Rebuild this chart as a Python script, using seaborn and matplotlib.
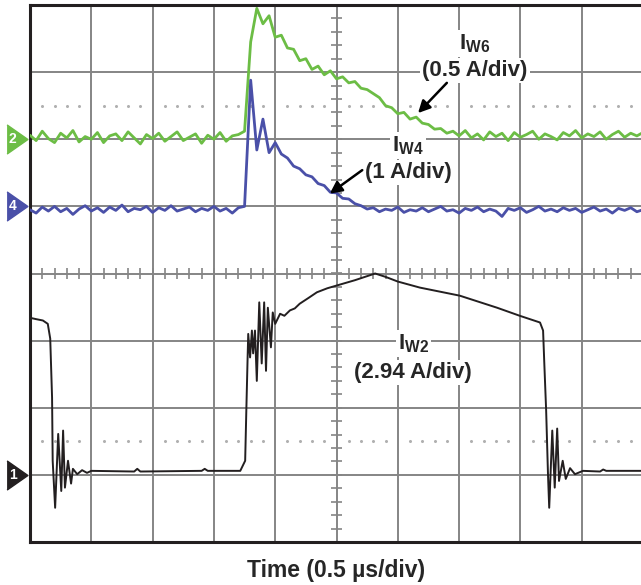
import numpy as np
import pandas as pd
import matplotlib
matplotlib.use("Agg")
import matplotlib.pyplot as plt
import seaborn as sns

# ==============================
# Data (scope divisions)
# ==============================

# channel reference levels (div)
ch_labels = ["2", "4", "1"]
ch_levels = [2.0, 1.0, -3.0]
ch_colors = ["#6cbd45", "#4a50a8", "#231f20"]

# IW6 (green), sampled every 0.1 div
iw6_vals = [2.06, 1.98, 2.12, 2.01, 1.95, 2.09, 2.02, 2.13, 1.96, 2.04,
            2.00, 2.10, 1.95, 2.05, 2.08, 1.98, 2.11, 2.02, 1.93, 2.07,
            2.01, 2.09, 1.97, 2.04, 2.11, 1.98, 2.03, 2.08, 1.94, 2.06,
            2.00, 2.10, 1.97, 2.05, 2.07,
            2.12, 3.45, 3.95, 3.72, 3.84, 3.52, 3.55, 3.36, 3.34, 3.17,
            3.20, 3.04, 3.09, 2.96, 3.02, 2.90, 2.93, 2.84, 2.86, 2.76,
            2.74, 2.68, 2.62, 2.50, 2.47, 2.38, 2.40, 2.30, 2.33, 2.24,
            2.22, 2.15, 2.16, 2.09, 2.12,
            2.05, 2.13, 2.02, 2.08, 1.99, 2.11, 2.04, 2.09, 1.98, 2.10,
            2.03, 2.07, 2.12, 2.00, 2.08, 2.04, 1.99, 2.10, 2.05, 2.13,
            2.02, 2.08, 2.04, 2.11, 2.00, 2.07, 2.12, 2.03, 2.09, 2.05, 2.10]

# IW4 (blue), sampled every 0.1 div
iw4_vals = [0.95, 0.90, 0.99, 0.93, 1.00, 0.92, 0.97, 0.88, 0.96, 1.01,
            0.93, 0.98, 0.91, 0.99, 0.94, 1.02, 0.92, 0.97, 0.95, 1.00,
            0.91, 0.98, 0.94, 1.01, 0.93, 0.96, 0.99, 0.92, 0.97, 0.94,
            1.00, 0.93, 0.97, 0.90, 0.98,
            1.00, 2.88, 1.84, 2.30, 1.80, 1.95, 1.78, 1.72, 1.60, 1.56,
            1.47, 1.44, 1.34, 1.31, 1.21, 1.20, 1.12, 1.11, 1.04, 1.01, 0.96,
            0.98, 0.92, 0.96, 0.94,
            0.99, 0.91, 0.95, 0.93, 0.98, 0.92, 0.96, 1.00, 0.93, 0.95,
            0.90, 0.97, 0.94, 0.99, 0.92, 0.96, 0.93, 0.85, 0.97, 0.94,
            0.98, 0.91, 0.95, 1.00, 0.93, 0.96, 0.92, 0.98, 0.94, 0.97,
            0.91, 0.95, 0.99, 0.93, 0.96, 0.90, 0.97, 0.94, 0.98, 0.92, 0.95]

sample_time = np.linspace(0, 10, 101)

# IW2 (black), irregular samples
iw2_time = [0.00, 0.10, 0.21, 0.29, 0.33, 0.36, 0.37, 0.41, 0.46, 0.51,
            0.54, 0.57, 0.62, 0.67, 0.70, 0.77, 0.85, 0.93, 1.00, 1.70,
            1.75, 1.80, 2.80, 2.85, 2.90, 3.43, 3.51, 3.53, 3.55, 3.56,
            3.59, 3.62, 3.64, 3.67, 3.70, 3.74, 3.78, 3.82, 3.85, 3.88,
            3.93, 3.96, 4.00, 4.08, 4.15, 4.24, 4.32, 4.40, 4.55, 4.68,
            4.85, 5.00, 5.30, 5.63, 5.80, 6.00, 6.36, 7.01, 7.62, 7.99,
            8.32, 8.37, 8.39, 8.42, 8.45, 8.47, 8.52, 8.56, 8.60, 8.63,
            8.69, 8.74, 8.81, 8.89, 9.02, 9.30, 9.35, 9.40, 10.00]
iw2_vals = [-0.66, -0.68, -0.70, -0.75, -0.97, -1.85, -2.79, -3.49, -2.39, -3.24,
            -2.34, -3.19, -2.79, -3.13, -2.91, -2.99, -2.93, -2.97, -2.94, -2.95,
            -2.91, -2.95, -2.94, -2.91, -2.94, -2.94, -2.79, -2.00, -1.25, -0.90,
            -1.25, -0.85, -1.19, -0.85, -1.60, -0.43, -1.34, -0.43, -1.45, -0.51,
            -1.10, -0.58, -0.75, -0.60, -0.63, -0.55, -0.52, -0.45, -0.36, -0.28,
            -0.22, -0.18, -0.10, 0.00, -0.05, -0.12, -0.21, -0.33, -0.51, -0.63,
            -0.73, -0.85, -1.34, -2.04, -2.99, -3.49, -2.34, -3.19, -2.31, -3.09,
            -2.79, -3.06, -2.90, -2.99, -2.94, -2.95, -2.92, -2.94, -2.94]

df_fast = pd.DataFrame({"t": sample_time, "IW6": iw6_vals, "IW4": iw4_vals})
df_iw2 = pd.DataFrame({"t": iw2_time, "IW2": iw2_vals})

# ==============================
# Style
# ==============================

sns.set_style("white")
plt.rcParams['font.family'] = ['Liberation Sans', 'DejaVu Sans']
plt.rcParams['mathtext.fontset'] = 'custom'
plt.rcParams['mathtext.bf'] = 'Liberation Sans:bold'
plt.rcParams['mathtext.rm'] = 'Liberation Sans'

grid_col = "#858585"

fig = plt.figure(figsize=(6.41, 5.85), dpi=100)
ax = fig.add_axes([30 / 641, 43 / 585, 613 / 641, 537 / 585])
ax.set_xlim(0, 10)
ax.set_ylim(-4, 4)

# graticule
ax.set_xticks(range(0, 11))
ax.set_yticks(range(-4, 5))
ax.grid(True, color=grid_col, lw=1.4, zorder=0)
ax.tick_params(length=0, labelbottom=False, labelleft=False)
ax.set_axisbelow(True)

minor_x = np.arange(0, 10.01, 0.2)
minor_y = np.arange(-4, 4.01, 0.2)
ax.vlines(minor_x, -0.075, 0.075, color=grid_col, lw=1.2, zorder=1)
ax.hlines(minor_y, 5 - 0.09, 5 + 0.09, color=grid_col, lw=1.2, zorder=1)
dot_x = [x for x in minor_x if abs(x - round(x)) > 1e-6]
for yy in (2.5, -2.5):
    ax.plot(dot_x, [yy] * len(dot_x), ls='none', marker='o', ms=1.2,
            color="#b0b0b0", zorder=1)

for side in ['left', 'top', 'bottom']:
    ax.spines[side].set_linewidth(2.2)
    ax.spines[side].set_color("#231f20")
ax.spines['right'].set_visible(False)

# ==============================
# Traces
# ==============================

sns.lineplot(data=df_fast, x="t", y="IW6", color=ch_colors[0], lw=2.0,
             estimator=None, sort=False, ax=ax, zorder=3)
sns.lineplot(data=df_fast, x="t", y="IW4", color=ch_colors[1], lw=2.0,
             estimator=None, sort=False, ax=ax, zorder=3)
sns.lineplot(data=df_iw2, x="t", y="IW2", color=ch_colors[2], lw=1.4,
             estimator=None, sort=False, ax=ax, zorder=3)
ax.set_xlabel("")
ax.set_ylabel("")

# channel markers
tri = [(-1, -1.4), (1, 0), (-1, 1.4)]
for lab, lev, col in zip(ch_labels, ch_levels, ch_colors):
    ax.plot([-0.21], [lev], marker=tri, ms=21, color=col, clip_on=False,
            ls='none', zorder=6)
    ax.text(-0.285, lev, lab, color='white', fontsize=10, fontweight='bold',
            ha='center', va='center', zorder=7, clip_on=False)

# ==============================
# Labels
# ==============================

box = dict(facecolor='white', edgecolor='none', pad=1.5)
fs = 16

ax.text(7.26, 3.43, r'$\mathbf{I_{W6}}$', fontsize=fs, ha='center', va='center',
        bbox=box, zorder=5)
ax.text(7.26, 3.03, '(0.5 A/div)', fontsize=fs, fontweight='bold', ha='center',
        va='center', bbox=box, zorder=5)
ax.annotate('', xy=(6.33, 2.39), xytext=(6.80, 2.84),
            arrowprops=dict(arrowstyle='-|>', lw=1.8, color='black',
                            mutation_scale=18, shrinkA=0, shrinkB=0), zorder=5)

ax.text(6.17, 1.91, r'$\mathbf{I_{W4}}$', fontsize=fs, ha='center', va='center',
        bbox=box, zorder=5)
ax.text(6.17, 1.51, '(1 A/div)', fontsize=fs, fontweight='bold', ha='center',
        va='center', bbox=box, zorder=5)
ax.annotate('', xy=(4.89, 1.19), xytext=(5.42, 1.54),
            arrowprops=dict(arrowstyle='-|>', lw=1.8, color='black',
                            mutation_scale=18, shrinkA=0, shrinkB=0), zorder=5)

ax.text(6.25, -1.04, r'$\mathbf{I_{W2}}$', fontsize=fs, ha='center', va='center',
        bbox=box, zorder=5)
ax.text(6.25, -1.48, '(2.94 A/div)', fontsize=fs, fontweight='bold', ha='center',
        va='center', bbox=box, zorder=5)

fig.text(336 / 641, 1 - 570 / 585, 'Time (0.5 µs/div)', fontsize=16.5,
         fontweight='bold', ha='center', va='center')

plt.savefig('out.png', dpi=100)
plt.close()
